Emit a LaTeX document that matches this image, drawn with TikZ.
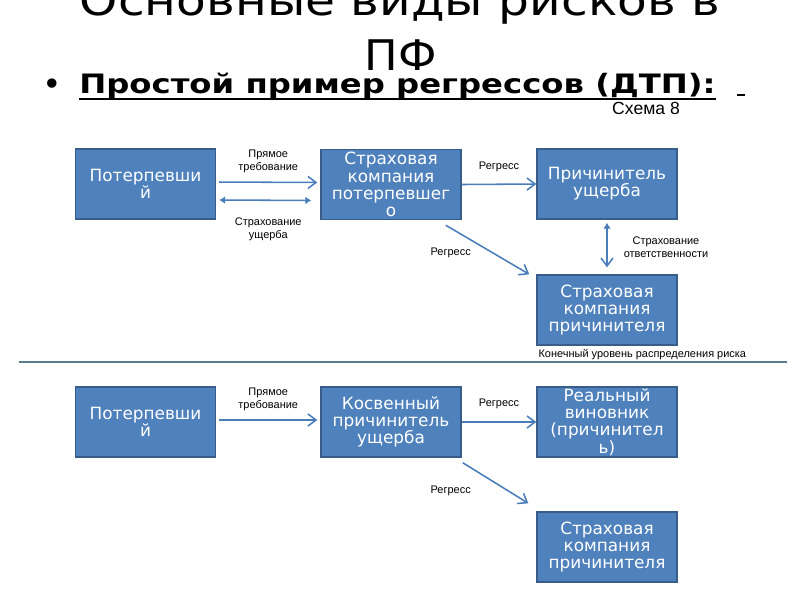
\documentclass[tikz,border=0pt]{standalone}
\usepackage{fontspec}
\usepackage{graphicx}
\setmainfont{Liberation Sans}
\newfontfamily\boxfont{DejaVu Sans}
\usetikzlibrary{arrows.meta,positioning}

\definecolor{boxfill}{RGB}{79,129,189}
\definecolor{boxline}{RGB}{56,93,138}
\definecolor{arrowblue}{RGB}{74,126,187}
\definecolor{sepline}{RGB}{90,125,140}

\tikzset{
    risk box/.style={rectangle, draw=boxline, fill=boxfill, line width=1pt,
        minimum width=3.5cm, minimum height=1.75cm, inner sep=0,
        text=white, align=center, font=\boxfont\fontsize{12}{12.2}\selectfont},
    flow/.style={draw=arrowblue, line width=1.1pt, -{Straight Barb[length=2mm,width=3mm]}},
    both flow/.style={draw=arrowblue, line width=1.1pt,
        {Latex[length=1.5mm,width=2mm]}-{Latex[length=1.5mm,width=2mm]}},
    small label/.style={font=\fontsize{7.8}{9.2}\selectfont, align=center, inner sep=0},
    title text/.style={font=\boxfont\fontsize{30}{36}\selectfont, inner sep=0},
    head text/.style={font=\boxfont\bfseries\fontsize{19}{22}\selectfont, inner sep=0}
    }

\begin{document}
\begin{tikzpicture}[x=0.025cm, y=-0.025cm]
    \useasboundingbox (0,0) rectangle (800,600);

    % title
    \node[title text, anchor=base] (title1) at (400,15) {\resizebox{16cm}{\height}{Основные виды рисков в}};
    \node[title text, anchor=base] (title2) at (401,70) {\resizebox{1.8cm}{\height}{ПФ}};
    \node[head text, anchor=base] (bullet) at (52,93) {•};
    \node[head text, anchor=base west] (head) at (79,93) {\resizebox{15.9cm}{\height}{Простой пример регрессов (ДТП):}};
    \draw[line width=1.4pt] ([yshift=-1.5mm]head.base west) -- ([yshift=-1.5mm]head.base east);
    \draw[line width=1pt] (737,95) -- (745,95);
    \node[anchor=base, font=\fontsize{12.5}{15}\selectfont] (scheme) at (646,114) {Схема 8};

    % upper scheme
    \node[risk box] (victim1) at (145.5,184) {Потерпевши\\й};
    \node[risk box] (insvictim) at (391,184.5) {Страховая\\компания\\потерпевшег\\о};
    \node[risk box] (culprit) at (607,184) {Причинитель\\ущерба};
    \node[risk box] (insculprit1) at (607,310) {Страховая\\компания\\причинителя};
    \node[small label, anchor=north west] (level) at ([xshift=0.5mm,yshift=-0.8mm]insculprit1.south west)
        {Конечный уровень распределения риска};

    \draw[flow, shorten <=0.75mm, shorten >=0.75mm] ([yshift=0.5mm]victim1.east) -- ([yshift=0.5mm]insvictim.west)
        node[small label, midway, above=2.2mm] (l1) {Прямое\\требование};
    \draw[both flow, shorten <=0.75mm, shorten >=2.25mm] ([yshift=-4mm]victim1.east) -- ([yshift=-4mm]insvictim.west)
        node[small label, midway, below=4.3mm] (l2) {Страхование\\ущерба};
    \draw[flow] (insvictim.east) -- (culprit.west)
        node[small label, midway, above=3mm] (l3) {Регресс};
    \draw[flow] ([xshift=-4mm,yshift=-1.25mm]insvictim.south east) -- ([xshift=-1.75mm]insculprit1.north west)
        node[small label, midway, left=4mm, yshift=-0.8mm] (l4) {Регресс};
    \draw[draw=arrowblue, line width=1.1pt, {Latex[length=1.5mm,width=2mm]}-{Straight Barb[length=2mm,width=3mm]},
        shorten <=0.75mm, shorten >=1.75mm] (culprit.south) -- (insculprit1.north)
        node[small label, midway, right=4mm] (l5) {Страхование\\ответственности};

    % separator
    \draw[sepline, line width=1.1pt] (19,362) -- (787,362);

    % lower scheme
    \node[risk box] (victim2) at (145.5,422) {Потерпевши\\й};
    \node[risk box] (indirect) at (391,422) {Косвенный\\причинитель\\ущерба};
    \node[risk box] (real) at (607,422) {Реальный\\виновник\\(причинител\\ь)};
    \node[risk box] (insculprit2) at (607,547) {Страховая\\компания\\причинителя};

    \draw[flow, shorten <=0.75mm, shorten >=0.75mm] ([yshift=0.5mm]victim2.east) -- ([yshift=0.5mm]indirect.west)
        node[small label, midway, above=2.2mm] (l6) {Прямое\\требование};
    \draw[flow] (indirect.east) -- (real.west)
        node[small label, midway, above=3mm] (l7) {Регресс};
    \draw[flow] ([xshift=0.25mm,yshift=-1.25mm]indirect.south east) -- ([xshift=-2mm,yshift=2mm]insculprit2.north west)
        node[small label, midway, left=6mm, yshift=-2mm] (l8) {Регресс};
\end{tikzpicture}
\end{document}
